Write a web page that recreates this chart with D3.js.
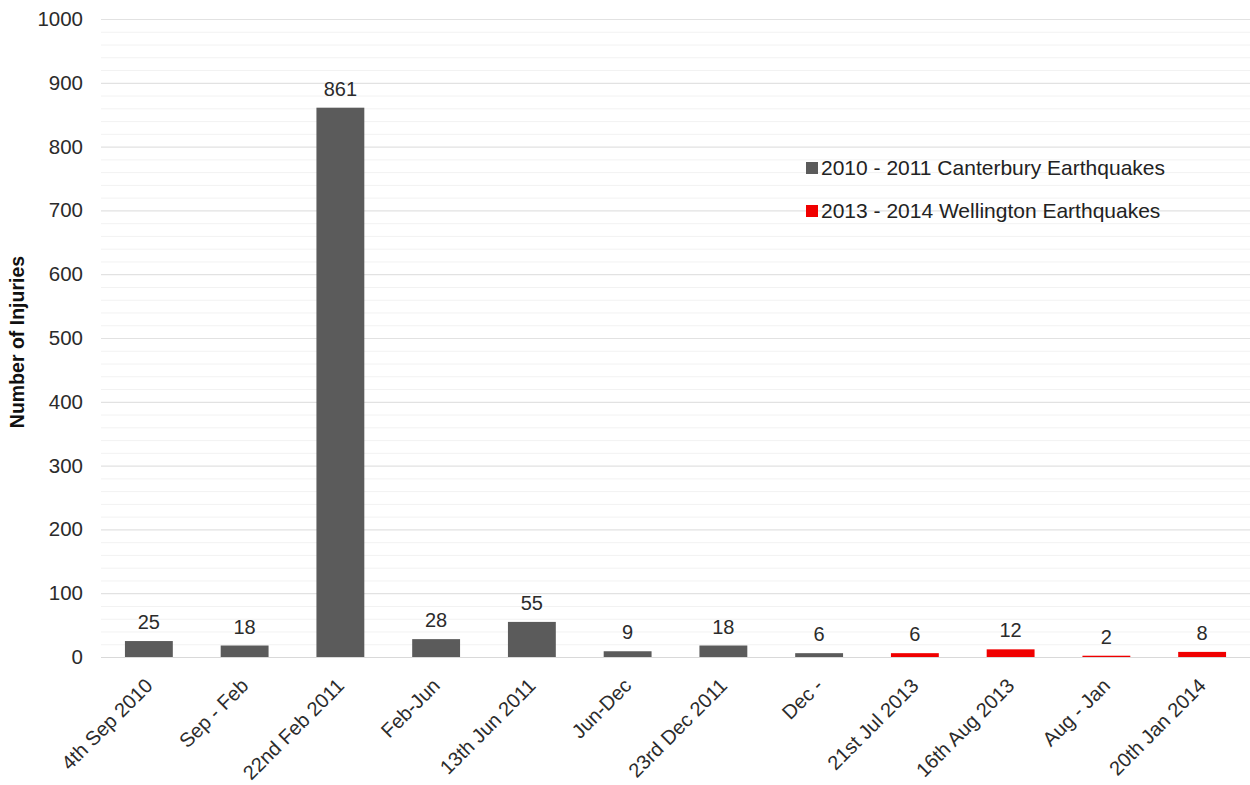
<!DOCTYPE html>
<html>
<head>
<meta charset="utf-8">
<script src="https://cdn.jsdelivr.net/npm/d3@7/dist/d3.min.js"></script>
<style>
  html, body { margin: 0; padding: 0; background: #fff; }
  svg { display: block; font-family: "Liberation Sans", Arial, sans-serif; }
</style>
</head>
<body>
<svg id="chart" width="1250" height="785"></svg>
<script>
// Injury counts per earthquake event / inter-event period
const categories = ["4th Sep 2010", "Sep - Feb", "22nd Feb 2011", "Feb-Jun", "13th Jun 2011",
  "Jun-Dec", "23rd Dec 2011", "Dec -", "21st Jul 2013", "16th Aug 2013", "Aug - Jan", "20th Jan 2014"];
const injuries = [25, 18, 861, 28, 55, 9, 18, 6, 6, 12, 2, 8];
const region = ["Canterbury", "Canterbury", "Canterbury", "Canterbury", "Canterbury", "Canterbury",
  "Canterbury", "Canterbury", "Wellington", "Wellington", "Wellington", "Wellington"];
const seriesNames = ["2010 - 2011 Canterbury Earthquakes", "2013 - 2014 Wellington Earthquakes"];
const seriesKeys = ["Canterbury", "Wellington"];
const yTicks = [0, 100, 200, 300, 400, 500, 600, 700, 800, 900, 1000];

const svg = d3.select("#chart");
const plotLeft = 101, plotRight = 1250, plotTop = 19, plotBottom = 657;

const x = d3.scaleBand().domain(categories).range([plotLeft, plotRight]).paddingInner(0.5).paddingOuter(0.25);
const y = d3.scaleLinear().domain([0, 1000]).range([plotBottom, plotTop]);
const color = d3.scaleOrdinal().domain(seriesKeys).range(["#5b5b5b", "#f00000"]);

// minor gridlines every 20
const minor = d3.range(20, 1000, 20).filter(v => v % 100 !== 0);
svg.append("g").selectAll("line").data(minor).join("line")
  .attr("x1", plotLeft).attr("x2", plotRight)
  .attr("y1", d => y(d) + 0.5).attr("y2", d => y(d) + 0.5)
  .attr("stroke", "#f2f2f2").attr("stroke-width", 1);

// major gridlines via the axis
const yAxis = svg.append("g")
  .attr("transform", `translate(${plotLeft},0)`)
  .call(d3.axisLeft(y).tickValues(yTicks).tickSize(-(plotRight - plotLeft)).tickPadding(18).tickFormat(d3.format("d")));
yAxis.select(".domain").remove();
yAxis.selectAll(".tick line").attr("stroke", "#e2e2e2").attr("stroke-width", 1.2);
yAxis.selectAll(".tick text").attr("fill", "#2b2b2b").style("font-size", "20.5px");

// bars
svg.append("g").selectAll("rect").data(categories).join("rect")
  .attr("x", d => x(d))
  .attr("width", x.bandwidth())
  .attr("y", (d, i) => y(injuries[i]))
  .attr("height", (d, i) => y(0) - y(injuries[i]))
  .attr("fill", (d, i) => color(region[i]));

// value labels
svg.append("g").selectAll("text").data(categories).join("text")
  .attr("x", d => x(d) + x.bandwidth() / 2)
  .attr("y", (d, i) => y(injuries[i]) - 12)
  .attr("text-anchor", "middle")
  .attr("fill", "#2b2b2b")
  .style("font-size", "20px")
  .text((d, i) => injuries[i]);

// x axis baseline
svg.append("line").attr("x1", plotLeft).attr("x2", plotRight)
  .attr("y1", y(0) + 0.5).attr("y2", y(0) + 0.5)
  .attr("stroke", "#d9d9d9").attr("stroke-width", 1.2);

// rotated category labels
const xAxis = svg.append("g")
  .attr("transform", `translate(0,${plotBottom})`)
  .call(d3.axisBottom(x).tickSize(0).tickPadding(0));
xAxis.select(".domain").remove();
xAxis.selectAll(".tick text")
  .attr("fill", "#2b2b2b")
  .style("font-size", "20px")
  .attr("text-anchor", "end")
  .attr("dy", null)
  .attr("y", 0)
  .attr("transform", "translate(5,30) rotate(-45)");

// y axis title
svg.append("text")
  .attr("transform", `translate(24,342) rotate(-90)`)
  .attr("text-anchor", "middle")
  .attr("fill", "#111")
  .style("font-size", "19.5px")
  .style("font-weight", "bold")
  .text("Number of Injuries");

// legend
const legend = svg.append("g").attr("transform", "translate(806,168)");
const rows = legend.selectAll("g").data(seriesKeys).join("g")
  .attr("transform", (d, i) => `translate(0,${i * 43})`);
rows.append("rect").attr("x", 0).attr("y", -6).attr("width", 12).attr("height", 12)
  .attr("fill", d => color(d));
rows.append("text").attr("x", 15).attr("y", 0).attr("dy", "0.35em")
  .attr("fill", "#222").style("font-size", "21px")
  .text((d, i) => seriesNames[i]);
</script>
</body>
</html>
